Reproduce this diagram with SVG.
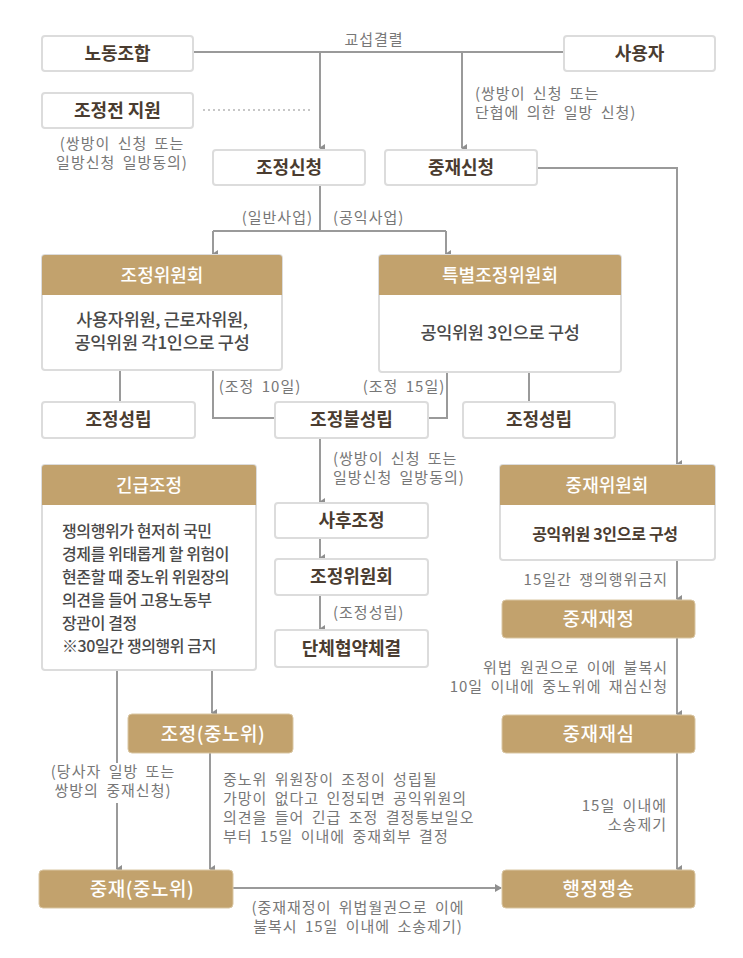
<svg xmlns="http://www.w3.org/2000/svg" width="743" height="958" viewBox="0 0 743 958">
<defs>
<marker id="ah" markerWidth="8" markerHeight="8" refX="4" refY="6" orient="auto" markerUnits="userSpaceOnUse" viewBox="0 0 8 8">
<path d="M0,1 L8,1 L4,7 Z" fill="#8f8f8f"/>
</marker>
<marker id="ahr" markerWidth="8" markerHeight="8" refX="6" refY="4" orient="0" markerUnits="userSpaceOnUse" viewBox="0 0 8 8">
<path d="M0,0 L7,4 L0,8 Z" fill="#8f8f8f"/>
</marker>
<style>
text{font-family:"Noto Sans CJK KR","Noto Sans",sans-serif;}
.box{fill:#ffffff;stroke:#dcdcdc;stroke-width:2;}
.hdr{fill:#c2a26d;}
.bbox{fill:#c2a26d;stroke:#d9c6a3;stroke-width:1;}
.lbl{font-size:18px;font-weight:700;fill:#4a3c30;text-anchor:middle;}
.hl{font-size:18px;font-weight:500;fill:#ffffff;text-anchor:middle;}
.bl{font-size:19px;font-weight:500;fill:#ffffff;text-anchor:middle;letter-spacing:0.5px;}
.body{font-size:17.5px;font-weight:500;fill:#4a4a4a;letter-spacing:-0.3px;}
.body2{font-size:16px;font-weight:500;fill:#4a4a4a;letter-spacing:-0.4px;}
.sm{font-size:15px;fill:#777777;letter-spacing:1px;word-spacing:3px;}
.c{text-anchor:middle;}
.e{text-anchor:end;}
.ln{fill:none;stroke:#9a9a9a;stroke-width:2;}
.ar{fill:none;stroke:#9a9a9a;stroke-width:2;marker-end:url(#ah);}
</style>
</defs>
<rect width="743" height="958" fill="#ffffff"/>

<g id="connectors">
<path class="ln" d="M193,52 H564"/>
<path class="ar" d="M320,52 V148"/>
<path class="ar" d="M462,52 V148"/>
<path d="M203,110 H312" fill="none" stroke="#b5b5b5" stroke-width="1.5" stroke-dasharray="2,3"/>
<path class="ln" d="M320,185 V231"/>
<path class="ln" d="M213,231 H446"/>
<path class="ar" d="M213,231 V254"/>
<path class="ar" d="M446,231 V254"/>
<path class="ar" d="M537,168 H677 V464"/>
<path class="ln" d="M120,370 V402"/>
<path class="ln" d="M213,370 V418 H275"/>
<path class="ln" d="M447,372 V418 H428"/>
<path class="ln" d="M529,372 V402"/>
<path class="ar" d="M320,437 V502"/>
<path class="ar" d="M320,538 V558"/>
<path class="ar" d="M320,595 V629"/>
<path class="ln" d="M117,670 V763"/>
<path class="ar" d="M117,803 V869"/>
<path class="ar" d="M212,670 V713"/>
<path class="ar" d="M210,753 V869"/>
<path d="M233,888 H501" fill="none" stroke="#9a9a9a" stroke-width="2" marker-end="url(#ahr)"/>
<path class="ar" d="M677,560 V599"/>
<path class="ar" d="M677,638 V714"/>
<path class="ar" d="M677,753 V869"/>
</g>

<g id="n-labor"><rect class="box" x="42" y="36" width="151" height="35" rx="3"/><text class="lbl" x="117.5" y="60">노동조합</text></g>
<g id="n-employer"><rect class="box" x="564" y="36" width="151" height="35" rx="3"/><text class="lbl" x="639.5" y="60">사용자</text></g>
<g id="n-presupport"><rect class="box" x="42" y="93" width="151" height="35" rx="3"/><text class="lbl" x="117.5" y="117">조정전 지원</text></g>
<g id="n-medreq"><rect class="box" x="213" y="150" width="152" height="35" rx="3"/><text class="lbl" x="289" y="174">조정신청</text></g>
<g id="n-arbreq"><rect class="box" x="385" y="150" width="152" height="35" rx="3"/><text class="lbl" x="461" y="174">중재신청</text></g>

<g id="n-medcom">
<rect class="box" x="42" y="255" width="240" height="115" rx="3"/>
<path class="hdr" d="M42,258 a3,3 0 0 1 3,-3 H279 a3,3 0 0 1 3,3 V295 H42 Z"/>
<text class="hl" x="162" y="282">조정위원회</text>
<text class="body c" x="162"><tspan x="162" y="326">사용자위원, 근로자위원,</tspan><tspan x="162" y="349">공익위원 각1인으로 구성</tspan></text>
</g>
<g id="n-specmedcom">
<rect class="box" x="379" y="255" width="242" height="117" rx="3"/>
<path class="hdr" d="M379,258 a3,3 0 0 1 3,-3 H618 a3,3 0 0 1 3,3 V295 H379 Z"/>
<text class="hl" x="500" y="282">특별조정위원회</text>
<text class="body c" x="500" y="339">공익위원 3인으로 구성</text>
</g>

<g id="n-success-l"><rect class="box" x="42" y="402" width="153" height="36" rx="3"/><text class="lbl" x="118.5" y="426">조정성립</text></g>
<g id="n-fail"><rect class="box" x="275" y="402" width="153" height="36" rx="3"/><text class="lbl" x="351.5" y="426">조정불성립</text></g>
<g id="n-success-r"><rect class="box" x="463" y="402" width="152" height="36" rx="3"/><text class="lbl" x="539" y="426">조정성립</text></g>

<g id="n-emergency">
<rect class="box" x="42" y="465" width="214" height="205" rx="3"/>
<path class="hdr" d="M42,468 a3,3 0 0 1 3,-3 H253 a3,3 0 0 1 3,3 V505 H42 Z"/>
<text class="hl" x="149" y="492">긴급조정</text>
<text class="body2"><tspan x="62" y="537">쟁의행위가 현저히 국민</tspan><tspan x="62" y="560">경제를 위태롭게 할 위험이</tspan><tspan x="62" y="583">현존할 때 중노위 위원장의</tspan><tspan x="62" y="606">의견을 들어 고용노동부</tspan><tspan x="62" y="629">장관이 결정</tspan><tspan x="62" y="652">※30일간 쟁의행위 금지</tspan></text>
</g>

<g id="n-postmed"><rect class="box" x="275" y="503" width="153" height="35" rx="3"/><text class="lbl" x="351.5" y="527">사후조정</text></g>
<g id="n-medcom2"><rect class="box" x="275" y="559" width="153" height="36" rx="3"/><text class="lbl" x="351.5" y="583">조정위원회</text></g>
<g id="n-agreement"><rect class="box" x="275" y="630" width="153" height="37" rx="3"/><text class="lbl" x="351.5" y="655">단체협약체결</text></g>

<g id="n-arbcom">
<rect class="box" x="500" y="465" width="215" height="95" rx="3"/>
<path class="hdr" d="M500,468 a3,3 0 0 1 3,-3 H712 a3,3 0 0 1 3,3 V505 H500 Z"/>
<text class="hl" x="607" y="492">중재위원회</text>
<text class="c" x="605" y="540" style="font-weight:700;fill:#4a3c30;font-size:16px;letter-spacing:-0.3px">공익위원 3인으로 구성</text>
</g>

<g id="n-arbaward"><rect class="bbox" x="502" y="600" width="193" height="38" rx="4"/><text class="bl" x="598.5" y="626">중재재정</text></g>
<g id="n-arbreview"><rect class="bbox" x="502" y="715" width="193" height="38" rx="4"/><text class="bl" x="598.5" y="741">중재재심</text></g>
<g id="n-med-nlrc"><rect class="bbox" x="128" y="714" width="165" height="39" rx="4"/><text class="bl" x="213" y="741">조정(중노위)</text></g>
<g id="n-arb-nlrc"><rect class="bbox" x="39" y="870" width="194" height="38" rx="4"/><text class="bl" x="142" y="896">중재(중노위)</text></g>
<g id="n-litigation"><rect class="bbox" x="502" y="870" width="193" height="38" rx="4"/><text class="bl" x="598.5" y="896">행정쟁송</text></g>

<g id="labels">
<text class="sm c" x="374" y="45">교섭결렬</text>
<text class="sm"><tspan x="475" y="99">(쌍방이 신청 또는</tspan><tspan x="475" y="118">단협에 의한 일방 신청)</tspan></text>
<text class="sm c"><tspan x="122" y="149">(쌍방이 신청 또는</tspan><tspan x="122" y="168">일방신청 일방동의)</tspan></text>
<text class="sm e" x="313" y="223">(일반사업)</text>
<text class="sm" x="333" y="223">(공익사업)</text>
<text class="sm c" x="260" y="392">(조정 10일)</text>
<text class="sm c" x="404" y="392">(조정 15일)</text>
<text class="sm"><tspan x="333" y="464">(쌍방이 신청 또는</tspan><tspan x="333" y="483">일방신청 일방동의)</tspan></text>
<text class="sm" x="333" y="618">(조정성립)</text>
<text class="sm e" x="668" y="585">15일간 쟁의행위금지</text>
<text class="sm e"><tspan x="668" y="673">위법 원권으로 이에 불복시</tspan><tspan x="668" y="692">10일 이내에 중노위에 재심신청</tspan></text>
<text class="sm e"><tspan x="667" y="811">15일 이내에</tspan><tspan x="667" y="830">소송제기</tspan></text>
<text class="sm c"><tspan x="113" y="777">(당사자 일방 또는</tspan><tspan x="113" y="796">쌍방의 중재신청)</tspan></text>
<text class="sm"><tspan x="223" y="785">중노위 위원장이 조정이 성립될</tspan><tspan x="223" y="804">가망이 없다고 인정되면 공익위원의</tspan><tspan x="223" y="823">의견을 들어 긴급 조정 결정통보일오</tspan><tspan x="223" y="842">부터 15일 이내에 중재회부 결정</tspan></text>
<text class="sm c"><tspan x="358" y="913">(중재재정이 위법월권으로 이에</tspan><tspan x="358" y="932">불복시 15일 이내에 소송제기)</tspan></text>
</g>
</svg>
